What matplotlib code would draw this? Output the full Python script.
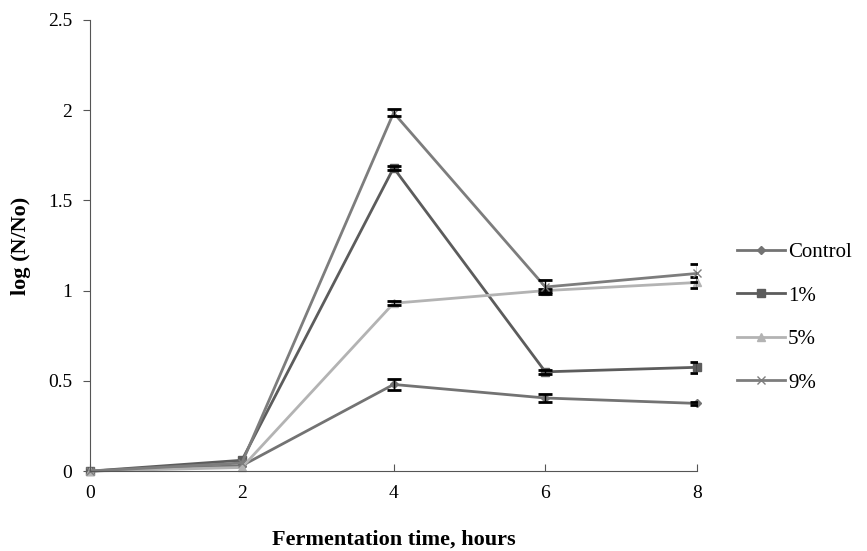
import numpy as np
import matplotlib.pyplot as plt
from matplotlib.lines import Line2D

# data
hours = [0, 2, 4, 6, 8]
control = [0.0, 0.03, 0.48, 0.405, 0.375]
pct1 = [0.0, 0.06, 1.68, 0.55, 0.575]
pct5 = [0.0, 0.02, 0.93, 1.0, 1.045]
pct9 = [0.0, 0.045, 1.985, 1.02, 1.095]

# nan = no error bar shown
err_control = [np.nan, np.nan, 0.03, 0.02, 0.01]
err_1 = [np.nan, np.nan, 0.01, 0.01, 0.03]
err_5 = [np.nan, np.nan, 0.01, 0.01, 0.03]
err_9 = [np.nan, np.nan, 0.02, 0.04, 0.05]

labels = ['Control', '1%', '5%', '9%']

plt.rcParams['font.family'] = 'Liberation Serif'

fig = plt.figure(figsize=(8.67, 5.51), dpi=100)
ax = fig.add_axes([0.104, 0.145, 0.70, 0.819])

series = [control, pct1, pct5, pct9]
errs = [err_control, err_1, err_5, err_9]
colors = ['#737373', '#5c5c5c', '#b3b3b3', '#7d7d7d']
markers = ['D', 's', '^', 'x']
msizes = [4, 6, 6, 6]

handles = []
for vals, e, c, m, ms, lab in zip(series, errs, colors, markers, msizes, labels):
    ax.plot(hours, vals, color=c, marker=m, markersize=ms, lw=2, clip_on=False)
    ax.errorbar(hours, vals, yerr=e, fmt='none', ecolor='black',
                elinewidth=1, capsize=5, capthick=2)
    handles.append(Line2D([], [], color=c, marker=m, markersize=ms, lw=2))

ax.set_xlim(0, 8)
ax.set_ylim(0, 2.5)
ax.set_xticks([0, 2, 4, 6, 8])
ax.set_yticks([0, 0.5, 1, 1.5, 2, 2.5])
ax.set_yticklabels(['0', '0.5', '1', '1.5', '2', '2.5'])
ax.tick_params(axis='x', direction='in', length=5, labelsize=14, pad=10, color='#555555')
ax.tick_params(axis='y', direction='out', length=5, labelsize=14, pad=8, color='#555555')
ax.spines['top'].set_visible(False)
ax.spines['right'].set_visible(False)
ax.spines['left'].set_color('#555555')
ax.spines['bottom'].set_color('#555555')

ax.set_xlabel('Fermentation time, hours', fontsize=16, fontweight='bold', labelpad=20)
ax.set_ylabel('log (N/No)', fontsize=16, fontweight='bold', labelpad=12)

ax.legend(handles, labels, loc='center left', bbox_to_anchor=(1.042, 0.34), frameon=False,
          fontsize=15, labelspacing=1.15, handlelength=2.3, handletextpad=0.15,
          borderpad=0.2)

fig.savefig('out.png', dpi=100)
